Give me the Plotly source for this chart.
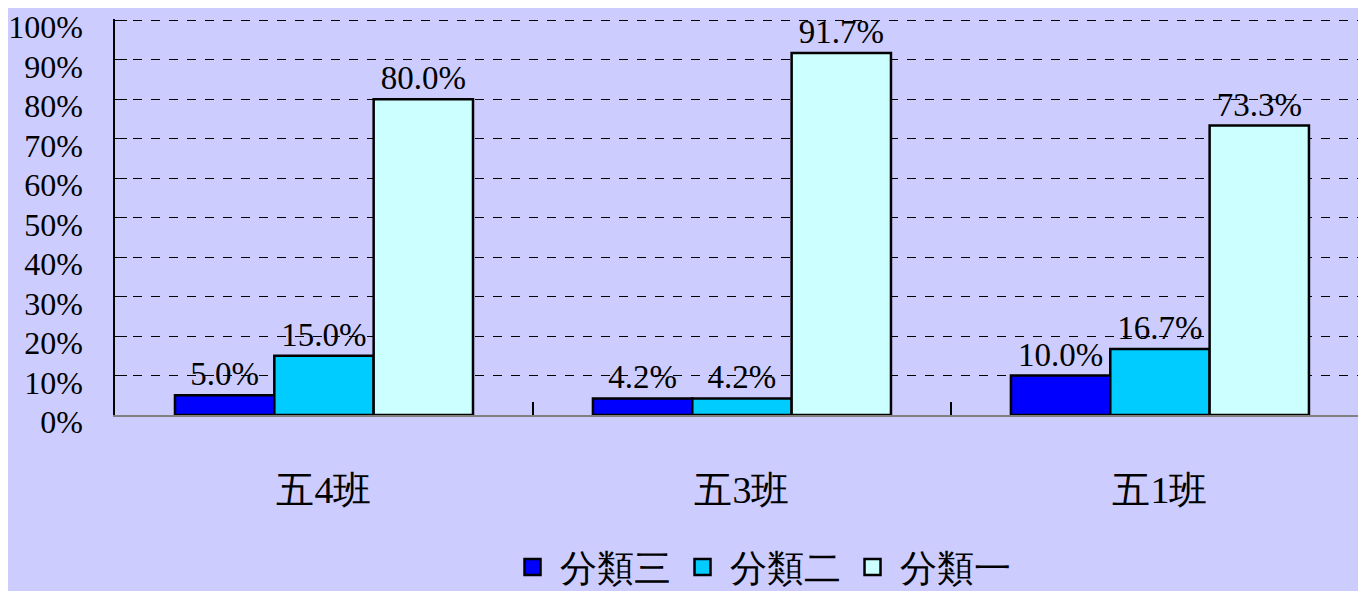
import plotly.graph_objects as go

categories = ["五4班", "五3班", "五1班"]
series_names = ["分類三", "分類二", "分類一"]
vals_cat3 = [5.0, 4.2, 10.0]
vals_cat2 = [15.0, 4.2, 16.7]
vals_cat1 = [80.0, 91.7, 73.3]
colors = ["#0000FF", "#00CCFF", "#CCFFFF"]
y_ticks = [0, 10, 20, 30, 40, 50, 60, 70, 80, 90, 100]
y_ticktext = [f"{v}%" for v in y_ticks]

FONT = "Liberation Serif, DejaVu Serif, serif"

fig = go.Figure()
for name, vals, col in zip(series_names, [vals_cat3, vals_cat2, vals_cat1], colors):
    fig.add_trace(go.Bar(
        x=categories, y=vals, name=name, showlegend=False,
        marker=dict(color=col, line=dict(color="black", width=2.5)),
        text=[f"{v:.1f}%" for v in vals],
        textposition="outside",
        textfont=dict(family=FONT, size=33, color="black"),
        cliponaxis=False,
    ))
# legend entries with larger square swatches
for name, col in zip(series_names, colors):
    fig.add_trace(go.Scatter(
        x=[None], y=[None], name=name, mode="markers",
        marker=dict(symbol="square", size=22, color=col, line=dict(color="black", width=2.5)),
    ))

fig.update_layout(
    width=1358, height=583,
    margin=dict(l=107, r=0, t=11, b=176, autoexpand=False),
    paper_bgcolor="#CCCCFF", plot_bgcolor="#CCCCFF",
    barmode="group", bargap=0.287, bargroupgap=0,
    font=dict(family=FONT, size=32, color="black"),
    showlegend=True,
    legend=dict(orientation="h", x=0.516, xanchor="center", y=-0.385, yanchor="middle",
                font=dict(family=FONT, size=37, color="black"),
                bgcolor="rgba(0,0,0,0)", itemwidth=44, tracegroupgap=0),
)
fig.update_xaxes(
    range=[-0.5, 2.493], showline=True, linecolor="#808080", linewidth=2,
    ticks="inside", tickson="boundaries", ticklen=13, tickcolor="black", tickwidth=2,
    showgrid=False, ticklabelstandoff=40, automargin=False,
    tickfont=dict(family=FONT, size=38, color="black"),
)
fig.update_yaxes(
    range=[0, 100.3], tickvals=y_ticks, ticktext=y_ticktext,
    showline=True, linecolor="black", linewidth=1.5,
    ticks="inside", ticklen=12, tickcolor="black",
    showgrid=True, gridcolor="black", gridwidth=1, griddash="dash",
    zeroline=False, ticklabelstandoff=24, ticklabelshift=7,
    ticklabeloverflow="allow", automargin=False,
    tickfont=dict(family=FONT, size=32, color="black"),
)

fig.write_html("out.html")
